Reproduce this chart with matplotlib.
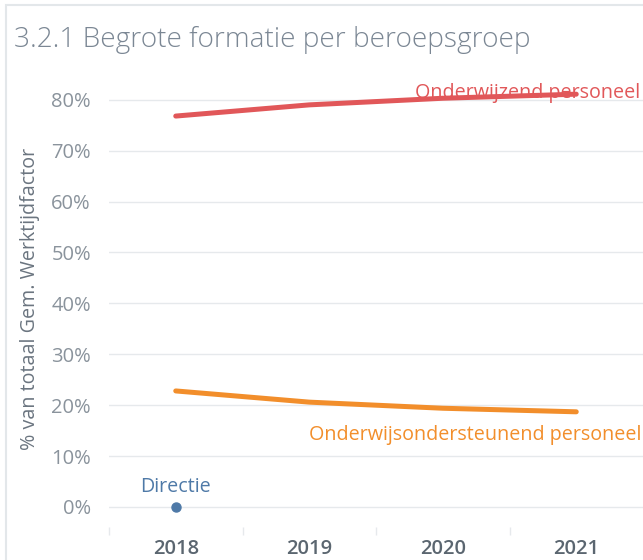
import matplotlib.pyplot as plt
from matplotlib.patches import Rectangle
from matplotlib.ticker import FuncFormatter, FixedLocator

plt.rcParams['font.family'] = ['Open Sans', 'DejaVu Sans']

years = ['2018', '2019', '2020', '2021']
onderwijzend = [0.768, 0.790, 0.803, 0.811]
ondersteunend = [0.228, 0.206, 0.194, 0.187]
directie = [0.0]
yticks = [0.0, 0.1, 0.2, 0.3, 0.4, 0.5, 0.6, 0.7, 0.8]

red = '#e15759'
orange = '#f28e2b'
blue = '#4e79a7'

W, H = 643, 560
fig = plt.figure(figsize=(W / 100, H / 100), dpi=100)
fig.patch.set_facecolor('white')

# dashboard border
fig.add_artist(Rectangle((6 / W, -0.1), 2, 1.1 - 5 / H, transform=fig.transFigure,
                         fill=False, edgecolor='#e3e7ea', linewidth=1.5))

ax = fig.add_axes([109 / W, 1 - 527 / H, (W - 109) / W, (527 - 70) / H])
x = list(range(len(years)))

ax.plot(x, onderwijzend, color=red, linewidth=3.6, solid_capstyle='round', zorder=3)
ax.plot(x, ondersteunend, color=orange, linewidth=3.6, solid_capstyle='round', zorder=3)
ax.plot([0], directie, 'o', color=blue, markersize=6.5, zorder=3)

ax.text(3.48, onderwijzend[-1] + 0.002, 'Onderwijzend personeel', color=red, fontsize=14.2,
        ha='right', va='center', zorder=2)
ax.text(3.49, ondersteunend[-1] - 0.045, 'Onderwijsondersteunend personeel', color=orange,
        fontsize=14.2, ha='right', va='center')
ax.text(0, directie[0] + 0.039, 'Directie', color=blue, fontsize=14.2, ha='center', va='center')

ax.set_xlim(-0.5, 3.5)
ax.set_ylim(-0.0393, 0.8585)
ax.set_yticks(yticks)
ax.yaxis.set_major_formatter(FuncFormatter(lambda v, p: f'{v * 100:.0f}%'))
ax.set_xticks(x)
ax.set_xticklabels(years)
ax.xaxis.set_minor_locator(FixedLocator([-0.5, 0.5, 1.5, 2.5]))

ax.grid(axis='y', color='#e6e9ec', linewidth=1.0)
ax.set_axisbelow(True)
for s in ax.spines.values():
    s.set_visible(False)

ax.tick_params(axis='y', length=0, pad=13, labelsize=14.5, labelcolor='#8a939c')
ax.tick_params(axis='x', which='major', length=0, pad=9, labelsize=14.5, labelcolor='#5b6670')
ax.tick_params(axis='x', which='minor', length=6, width=1, color='#e6e9ec', direction='out')
for lbl in ax.get_xticklabels():
    lbl.set_fontweight('semibold')

ax.set_ylabel('% van totaal Gem. Werktijdfactor', fontsize=14.2, color='#6b7580', labelpad=8)

fig.text(14 / W, 1 - 40 / H, '3.2.1 Begrote formatie per beroepsgroep', fontsize=20.2,
         color='#7b8794', ha='left', va='center', fontweight='light')

fig.savefig('out.png', dpi=100)
